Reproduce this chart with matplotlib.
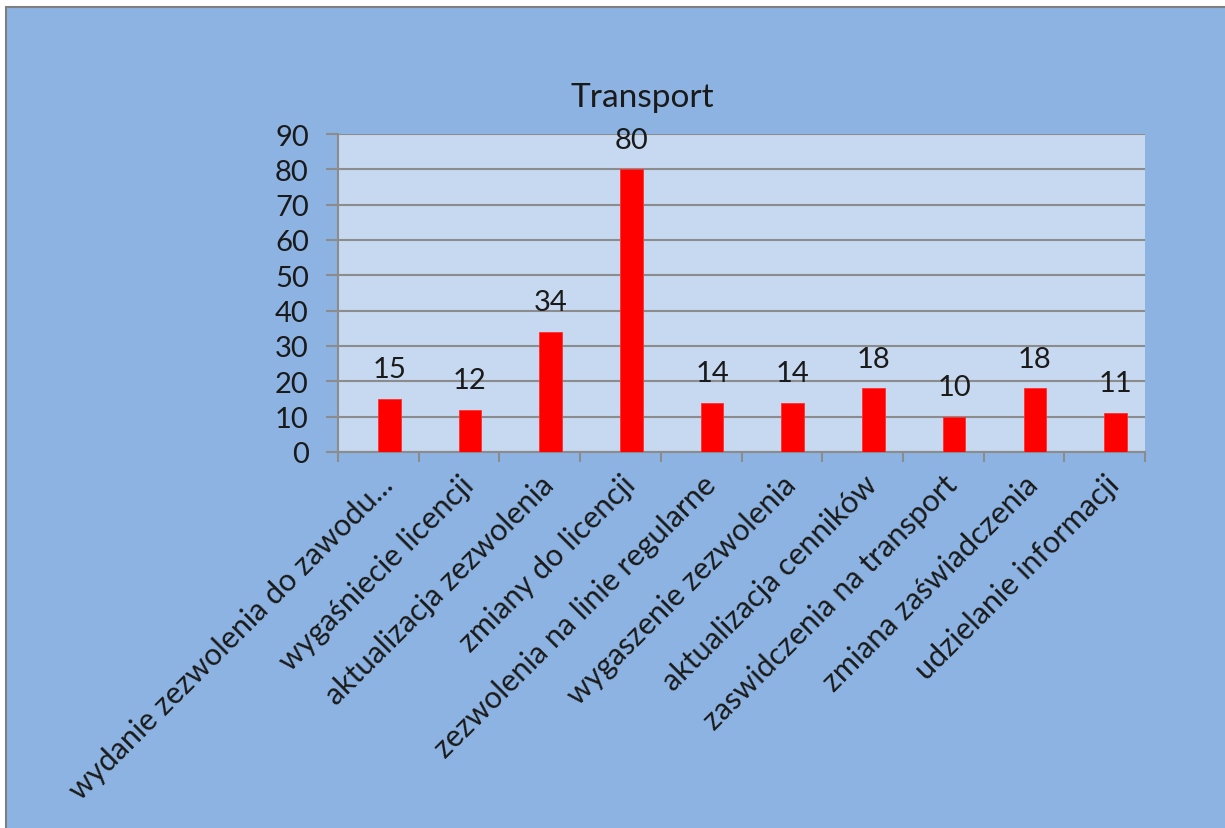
import numpy as np
import matplotlib
matplotlib.use('Agg')
import matplotlib.pyplot as plt
from matplotlib.patches import Rectangle

categories = ['wydanie zezwolenia do zawodu...', 'wygaśniecie licencji',
              'aktualizacja zezwolenia', 'zmiany do licencji',
              'zezwolenia na linie regularne', 'wygaszenie zezwolenia',
              'aktualizacja cenników', 'zaswidczenia na transport',
              'zmiana zaświadczenia', 'udzielanie informacji']
values = [15, 12, 34, 80, 14, 14, 18, 10, 18, 11]
title = 'Transport'

plt.rcParams['font.family'] = ['Lato', 'DejaVu Sans']

W, H = 1225, 829
fig = plt.figure(figsize=(W / 100, H / 100), dpi=100, facecolor='white')

# chart area background with grey border on left/top
bg = Rectangle((6 / W, -0.1), 1.2, 1 - 8 / H + 0.1, transform=fig.transFigure,
               facecolor='#8DB3E2', edgecolor='#7F7F7F', linewidth=1.5, zorder=-10)
fig.patches.append(bg)

ax = fig.add_axes([338 / W, 1 - 453 / H, (1145 - 338) / W, (453 - 135) / H])
ax.set_facecolor('#C6D9F1')

x = np.arange(len(values))
bars = ax.bar(x + 0.135, values, width=0.28, color='#FF0000', edgecolor='#FF3030',
              linewidth=0.6, zorder=3)
ax.bar_label(bars, padding=12, fontsize=21, color='#1a1a1a')

ax.set_xlim(-0.5, len(values) - 0.5)
ax.set_ylim(0, 90)
ax.set_yticks(np.arange(0, 91, 10))
ax.yaxis.grid(True, color='#8C8C8C', linewidth=1.5, zorder=1)
ax.set_axisbelow(True)

ax.set_xticks(x)
ax.set_xticklabels(categories, rotation=45, ha='right', rotation_mode='anchor',
                   fontsize=22, color='#1a1a1a')
ax.tick_params(axis='x', length=0, pad=13)
ax.set_xticks(np.arange(-0.5, len(values)), minor=True)
ax.tick_params(axis='x', which='minor', length=7, width=1.5, color='#8C8C8C')
ax.tick_params(axis='y', length=9, width=1.5, color='#8C8C8C', labelsize=21,
               labelcolor='#1a1a1a', pad=12)

for s in ['top', 'right']:
    ax.spines[s].set_visible(False)
for s in ['left', 'bottom']:
    ax.spines[s].set_color('#8C8C8C')
    ax.spines[s].set_linewidth(1.5)

fig.text(642 / W, 1 - 107 / H, title, ha='center', va='baseline', fontsize=24,
         color='#1a1a1a')

fig.savefig('out.png', dpi=100, facecolor=fig.get_facecolor())
